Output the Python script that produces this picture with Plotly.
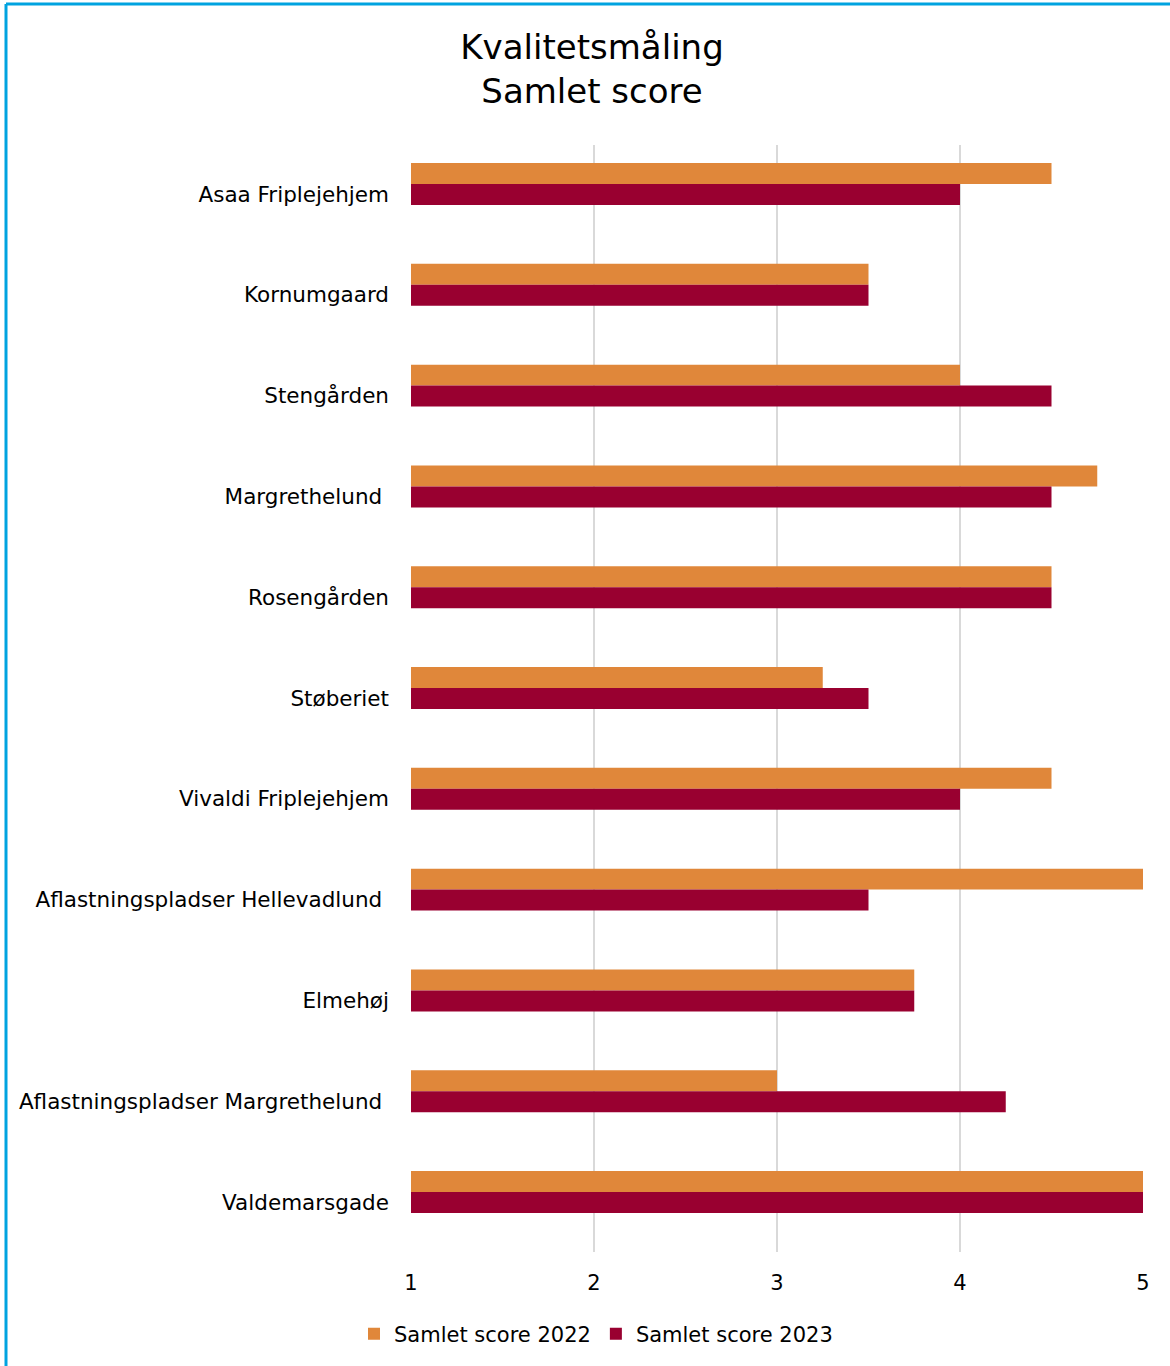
import plotly.graph_objects as go

categories = ["Asaa Friplejehjem", "Kornumgaard", "Stengården", "Margrethelund\u00a0",
              "Rosengården", "Støberiet", "Vivaldi Friplejehjem",
              "Aflastningspladser Hellevadlund\u00a0", "Elmehøj",
              "Aflastningspladser Margrethelund\u00a0", "Valdemarsgade"]
score_2022 = [4.5, 3.5, 4.0, 4.75, 4.5, 3.25, 4.5, 5.0, 3.75, 3.0, 5.0]
score_2023 = [4.0, 3.5, 4.5, 4.5, 4.5, 3.5, 4.0, 3.5, 3.75, 4.25, 5.0]
x_ticks = [1, 2, 3, 4, 5]

FONT = "DejaVu Sans"
idx = list(range(len(categories)))

fig = go.Figure()
fig.add_trace(go.Bar(y=idx, x=[v - 1 for v in score_2022], base=1, orientation="h",
                     name="Samlet score 2022", marker_color="#E0873A",
                     marker_line_width=0, offset=-0.307, width=0.208,
                     hovertext=score_2022))
fig.add_trace(go.Bar(y=idx, x=[v - 1 for v in score_2023], base=1, orientation="h",
                     name="Samlet score 2023", marker_color="#990030",
                     marker_line_width=0, offset=-0.099, width=0.208,
                     hovertext=score_2023))

L, R, T, B = 411, 27, 145, 114
W, H = 1170, 1366
pw, ph = W - L - R, H - T - B

fig.update_layout(
    width=W, height=H,
    margin=dict(l=L, r=R, t=T, b=B, autoexpand=False),
    paper_bgcolor="white", plot_bgcolor="white",
    barmode="overlay",
    font=dict(family=FONT, size=20, color="#000000"),
    title=dict(text="Kvalitetsmåling<br>Samlet score", x=0.506, xanchor="center",
               y=1 - 59 / H, yanchor="middle",
               font=dict(family=FONT, size=34, color="#000000")),
    xaxis=dict(range=[1, 5], tickvals=x_ticks, ticktext=[str(t) for t in x_ticks],
               showgrid=True, gridcolor="#D9D9D9", gridwidth=2, zeroline=False,
               showline=False, ticks="", ticklabelstandoff=16, automargin=False,
               tickfont=dict(family=FONT, size=21, color="#000000")),
    yaxis=dict(range=[10.496, -0.486], tickvals=idx, ticktext=categories,
               showgrid=False, zeroline=False, showline=False, ticks="",
               ticklabelstandoff=21, automargin=False,
               tickfont=dict(family=FONT, size=21.5, color="#000000")),
    legend=dict(orientation="h", x=(596 - L) / pw, xanchor="center",
                y=-(1334 - (H - B)) / ph, yanchor="middle",
                font=dict(family=FONT, size=21, color="#000000"),
                itemwidth=30, traceorder="normal"),
    showlegend=True,
)

fig.add_shape(type="line", xref="paper", yref="paper",
              x0=(6 - L) / pw, x1=(6 - L) / pw, y0=-0.5, y1=(H - B - 4) / ph,
              line=dict(color="#00A3E0", width=3))
fig.add_shape(type="line", xref="paper", yref="paper",
              x0=(6 - L) / pw, x1=1.5, y0=(H - B - 4) / ph, y1=(H - B - 4) / ph,
              line=dict(color="#00A3E0", width=3))

fig.write_html("out.html")
